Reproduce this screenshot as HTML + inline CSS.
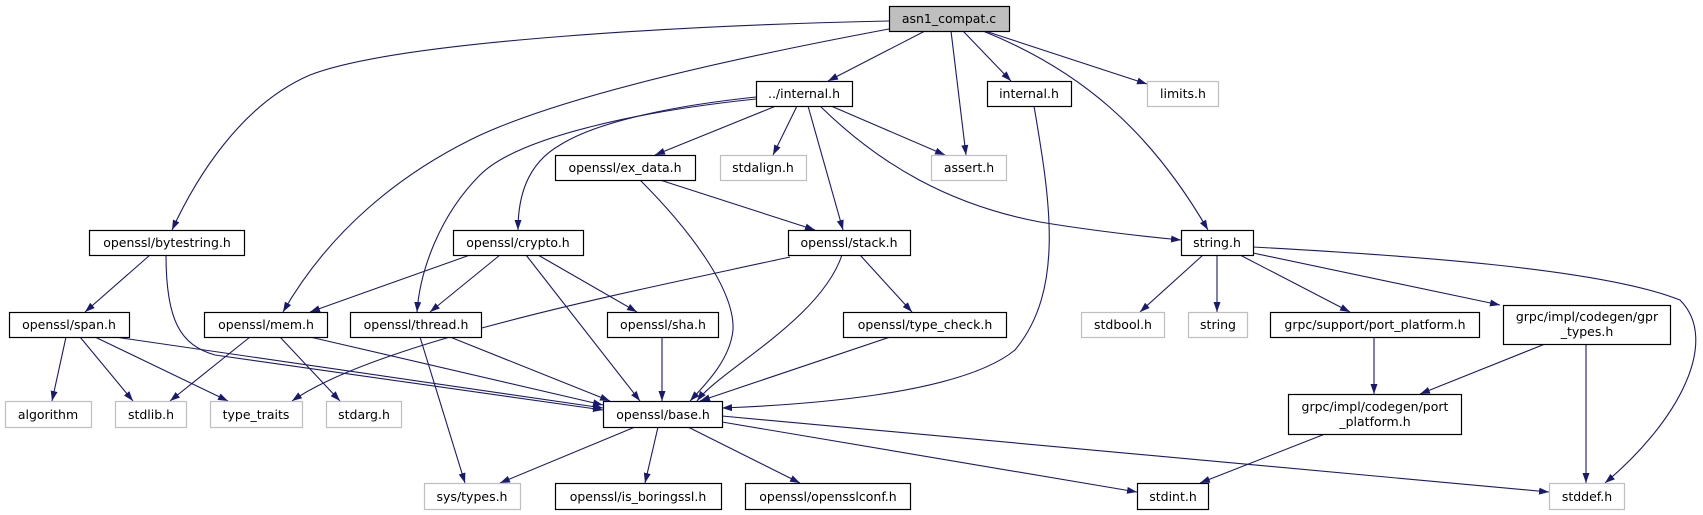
<!DOCTYPE html>
<html><head><meta charset="utf-8"><style>
html,body{margin:0;padding:0;background:#fff;}
svg{display:block;}
text{font-family:"DejaVu Sans","Liberation Sans",sans-serif;font-size:12.5px;fill:#000;text-anchor:middle;}
.b{fill:#fff;stroke:#000;stroke-width:1.2;}
.g{fill:#fff;stroke:#bfbfbf;stroke-width:1.2;}
.e{fill:none;stroke:#191970;stroke-width:1.1;}
</style></head><body>
<svg width="1703" height="515" viewBox="0 0 1703 515" xmlns="http://www.w3.org/2000/svg">
<defs><marker id="a" markerUnits="userSpaceOnUse" markerWidth="11" markerHeight="8" refX="10" refY="3.5" orient="auto"><path d="M0,0 L10,3.5 L0,7 z" fill="#191970"/></marker></defs>
<g class="e" marker-end="url(#a)">
<path d="M925,31 L828,81"/>
<path d="M951,31 L966,155"/>
<path d="M963,31 L1011,81"/>
<path d="M985,31 L1147,84"/>
<path d="M983,31 C1080,70 1150,130 1208,230"/>
<path d="M889,21 C700,25 400,40 310,75 C240,105 195,180 172,230"/>
<path d="M889,29 C750,55 560,95 470,140 C400,175 330,230 283,312"/>
<path d="M756,97 C680,105 600,120 560,145 C525,165 518,200 518,230"/>
<path d="M756,99 C650,110 520,135 480,175 C440,215 420,270 417,312"/>
<path d="M776,106 L655,155"/>
<path d="M797,106 L773,155"/>
<path d="M808,106 L843,230"/>
<path d="M831,106 L945,155"/>
<path d="M820,106 C880,165 950,205 1040,222 C1100,232 1150,237 1181,240"/>
<path d="M660,180 L815,230"/>
<path d="M640,180 C690,230 735,290 733,330 C730,360 705,385 690,401"/>
<path d="M790,257 C640,290 380,340 292,401"/>
<path d="M842,255 C820,320 720,370 697,401"/>
<path d="M860,255 L912,312"/>
<path d="M470,255 L310,312"/>
<path d="M500,255 L430,312"/>
<path d="M538,255 L637,312"/>
<path d="M526,255 L640,401"/>
<path d="M662,337 L662,401"/>
<path d="M890,337 L700,401"/>
<path d="M1034,106 C1050,200 1065,290 1015,350 C960,395 800,405 722,408"/>
<path d="M1203,255 L1140,312"/>
<path d="M1217,255 L1217,312"/>
<path d="M1240,255 L1350,312"/>
<path d="M1253,253 L1500,305"/>
<path d="M1253,247 C1400,255 1600,268 1680,300 C1720,340 1680,420 1605,483"/>
<path d="M1374,337 L1374,394"/>
<path d="M1545,344 L1420,394"/>
<path d="M1586,344 L1586,483"/>
<path d="M1325,434 L1200,483"/>
<path d="M150,255 L85,312"/>
<path d="M166,255 C166,320 180,345 215,355 L603,410"/>
<path d="M66,337 L52,401"/>
<path d="M80,337 L133,401"/>
<path d="M95,337 L228,401"/>
<path d="M115,337 L603,408"/>
<path d="M250,337 L170,401"/>
<path d="M280,337 L340,401"/>
<path d="M310,337 L603,405"/>
<path d="M420,337 L465,483"/>
<path d="M450,337 L610,401"/>
<path d="M635,427 L500,483"/>
<path d="M658,427 L645,483"/>
<path d="M688,427 L800,483"/>
<path d="M722,422 L1137,492"/>
<path d="M722,416 L1549,492"/>
</g>
<rect x="889.5" y="6.5" width="120" height="25" fill="#bfbfbf" stroke="#000" stroke-width="1.2"/><text x="949" y="23">asn1_compat.c</text>
<rect class="b" x="756.5" y="81.5" width="96" height="25"/><text x="804" y="98">../internal.h</text>
<rect class="b" x="987.5" y="81.5" width="84" height="25"/><text x="1029" y="98">internal.h</text>
<rect class="g" x="1147.5" y="81.5" width="71" height="25"/><text x="1183" y="98">limits.h</text>
<rect class="b" x="555.5" y="155.5" width="140" height="25"/><text x="625" y="172">openssl/ex_data.h</text>
<rect class="g" x="720.5" y="155.5" width="86" height="25"/><text x="763" y="172">stdalign.h</text>
<rect class="g" x="931.5" y="155.5" width="75" height="25"/><text x="969" y="172">assert.h</text>
<rect class="b" x="788.5" y="230.5" width="122" height="25"/><text x="849" y="247">openssl/stack.h</text>
<rect class="b" x="453.5" y="230.5" width="130" height="25"/><text x="518" y="247">openssl/crypto.h</text>
<rect class="b" x="89.5" y="230.5" width="155" height="25"/><text x="167" y="247">openssl/bytestring.h</text>
<rect class="b" x="1181.5" y="230.5" width="72" height="25"/><text x="1217" y="247">string.h</text>
<rect class="b" x="9.5" y="312.5" width="120" height="25"/><text x="69" y="329">openssl/span.h</text>
<rect class="b" x="204.5" y="312.5" width="123" height="25"/><text x="266" y="329">openssl/mem.h</text>
<rect class="b" x="350.5" y="312.5" width="131" height="25"/><text x="416" y="329">openssl/thread.h</text>
<rect class="b" x="607.5" y="312.5" width="111" height="25"/><text x="663" y="329">openssl/sha.h</text>
<rect class="b" x="843.5" y="312.5" width="163" height="25"/><text x="925" y="329">openssl/type_check.h</text>
<rect class="g" x="1081.5" y="312.5" width="83" height="25"/><text x="1123" y="329">stdbool.h</text>
<rect class="g" x="1188.5" y="312.5" width="59" height="25"/><text x="1218" y="329">string</text>
<rect class="b" x="1270.5" y="312.5" width="209" height="25"/><text x="1375" y="329">grpc/support/port_platform.h</text>
<rect class="b" x="1503.5" y="305.5" width="167" height="39"/><text x="1587" y="321">grpc/impl/codegen/gpr</text><text x="1587" y="336">_types.h</text>
<rect class="b" x="1288.5" y="394.5" width="173" height="40"/><text x="1375" y="411">grpc/impl/codegen/port</text><text x="1375" y="426">_platform.h</text>
<rect class="g" x="5.5" y="401.5" width="86" height="26"/><text x="48" y="419">algorithm</text>
<rect class="g" x="115.5" y="401.5" width="71" height="26"/><text x="151" y="419">stdlib.h</text>
<rect class="g" x="210.5" y="401.5" width="92" height="26"/><text x="256" y="419">type_traits</text>
<rect class="g" x="326.5" y="401.5" width="75" height="26"/><text x="364" y="419">stdarg.h</text>
<rect class="b" x="603.5" y="401.5" width="119" height="26"/><text x="663" y="419">openssl/base.h</text>
<rect class="g" x="424.5" y="483.5" width="96" height="26"/><text x="472" y="501">sys/types.h</text>
<rect class="b" x="555.5" y="483.5" width="166" height="26"/><text x="638" y="501">openssl/is_boringssl.h</text>
<rect class="b" x="745.5" y="483.5" width="165" height="26"/><text x="828" y="501">openssl/opensslconf.h</text>
<rect class="b" x="1137.5" y="483.5" width="71" height="26"/><text x="1173" y="501">stdint.h</text>
<rect class="g" x="1549.5" y="483.5" width="75" height="26"/><text x="1587" y="501">stddef.h</text>
</svg>
</body></html>
